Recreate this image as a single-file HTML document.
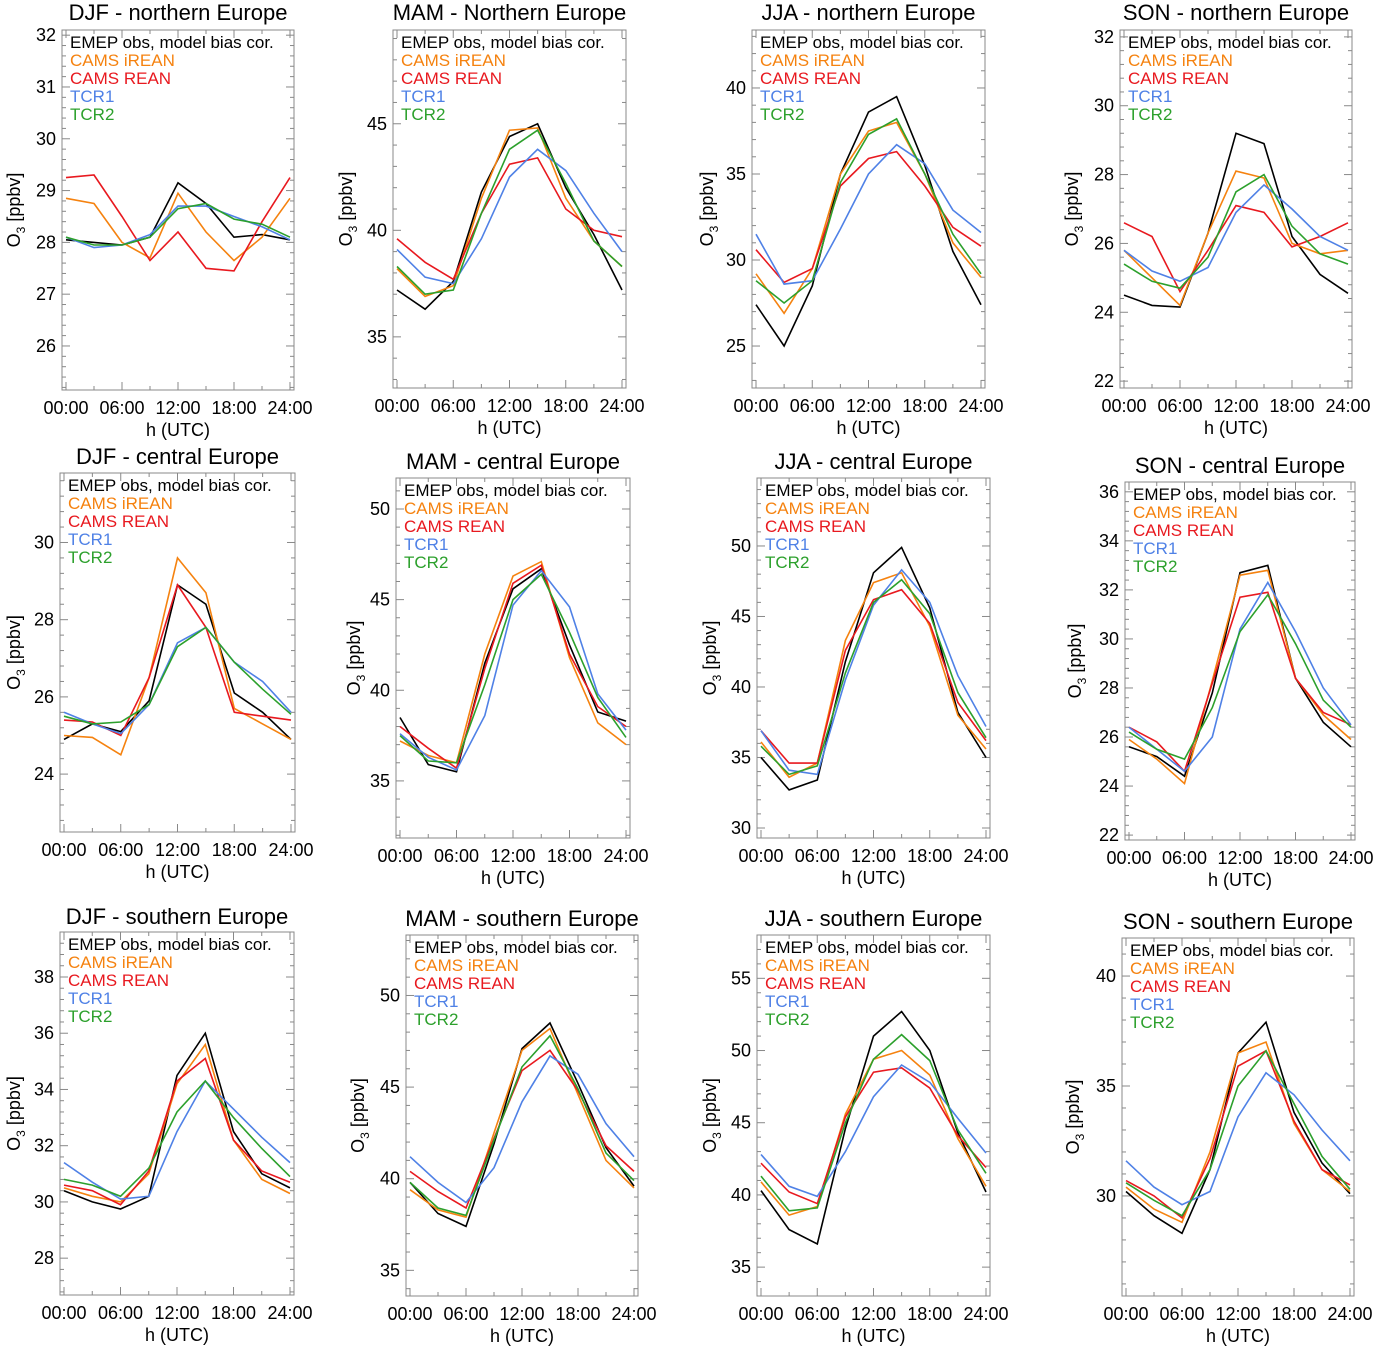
<!DOCTYPE html>
<html><head><meta charset="utf-8">
<style>
html,body{margin:0;padding:0;background:#fff;}
svg{display:block;font-family:"Liberation Sans",sans-serif;}
</style></head>
<body>
<svg id="fig" width="1374" height="1350" viewBox="0 0 1374 1350" xmlns="http://www.w3.org/2000/svg"></svg>
<script>
const hours = [0,3,6,9,12,15,18,21,24];
const seriesNames = ["EMEP obs, model bias cor.","CAMS iREAN","CAMS REAN","TCR1","TCR2"];
const seriesColors = ["#000000","#f5820f","#e8191f","#4f81e6","#2ca02c"];
const xTickLabels = ["00:00","06:00","12:00","18:00","24:00"];
const panelTitles = ["DJF -  northern Europe","MAM - Northern Europe","JJA -  northern Europe","SON -  northern Europe",
"DJF - central Europe","MAM - central Europe","JJA - central Europe","SON - central Europe",
"DJF - southern Europe","MAM - southern Europe","JJA - southern Europe","SON -  southern Europe"];
const yTicks = [[26,27,28,29,30,31,32],[35,40,45],[25,30,35,40],[22,24,26,28,30,32],
[24,26,28,30],[35,40,45,50],[30,35,40,45,50],[22,24,26,28,30,32,34,36],
[28,30,32,34,36,38],[35,40,45,50],[35,40,45,50,55],[30,35,40]];
const yRanges = [[25.15,32.1],[32.6,49.4],[22.56,43.37],[21.8,32.2],
[22.5,31.8],[31.85,51.71],[29.29,54.82],[21.8,36.4],
[26.69,39.6],[33.6,53.3],[33.0,58.0],[25.45,41.73]];
const obs = [[28.05,28.0,27.95,28.1,29.15,28.75,28.1,28.15,28.05],[37.2,36.3,37.6,41.8,44.4,45.0,42.0,39.8,37.2],[27.4,25.0,28.5,35.0,38.6,39.5,35.5,30.5,27.4],[24.5,24.2,24.15,26.3,29.2,28.9,26.2,25.1,24.55],
[24.9,25.3,25.1,25.9,28.9,28.4,26.1,25.6,24.9],[38.5,35.9,35.5,41.5,45.6,46.7,42.5,38.8,38.3],[35.0,32.7,33.4,41.8,48.1,49.9,45.6,38.2,35.0],[25.6,25.2,24.4,27.8,32.7,33.0,28.4,26.6,25.6],
[30.4,30.0,29.75,30.2,34.5,36.0,32.5,31.0,30.5],[39.8,38.1,37.4,41.9,47.1,48.5,45.2,41.7,39.6],[40.3,37.6,36.6,44.6,51.0,52.7,50.0,44.3,40.2],[30.2,29.1,28.3,31.2,36.5,37.9,33.8,31.5,30.1]];
const camsIrean = [[28.85,28.75,28.0,27.7,28.95,28.2,27.65,28.1,28.85],[38.2,36.9,37.4,41.5,44.7,44.8,41.5,39.5,38.3],[29.2,26.9,29.5,35.0,37.5,38.0,35.0,31.0,29.0],[25.8,25.0,24.2,26.3,28.1,27.9,26.0,25.7,25.8],
[25.0,24.95,24.5,26.5,29.6,28.7,25.7,25.3,24.9],[37.2,36.4,36.0,42.0,46.3,47.1,41.8,38.2,37.0],[36.1,33.6,34.6,43.3,47.4,48.1,44.3,38.0,35.6],[25.9,25.1,24.1,28.3,32.6,32.8,28.4,26.9,25.9],
[30.5,30.2,30.0,31.0,34.2,35.6,32.2,30.8,30.3],[39.4,38.3,37.9,42.5,47.0,48.2,44.6,41.0,39.5],[40.9,38.6,39.2,45.6,49.4,50.0,48.3,43.9,40.6],[30.4,29.4,28.8,32.0,36.5,37.0,33.3,31.2,30.2]];
const camsRean = [[29.25,29.3,28.5,27.65,28.2,27.5,27.45,28.4,29.25],[39.6,38.5,37.7,40.8,43.1,43.4,41.0,40.0,39.7],[30.6,28.7,29.5,34.3,35.9,36.3,34.3,31.9,30.8],[26.6,26.2,24.6,25.8,27.1,26.9,25.9,26.2,26.6],
[25.4,25.35,25.0,26.5,28.9,27.8,25.6,25.5,25.4],[38.0,36.8,35.7,41.2,45.9,46.9,42.0,39.1,38.0],[36.9,34.6,34.6,42.6,46.2,46.9,44.5,38.9,36.2],[26.4,25.8,24.6,28.2,31.7,31.9,28.4,27.0,26.5],
[30.6,30.4,29.9,31.1,34.3,35.1,32.2,31.1,30.7],[40.4,39.3,38.4,42.2,45.9,47.0,44.8,41.8,40.4],[42.2,40.2,39.4,45.4,48.5,48.8,47.4,44.1,41.9],[30.7,30.0,29.0,31.7,35.9,36.6,33.4,31.2,30.5]];
const tcr1 = [[28.1,27.9,27.95,28.15,28.7,28.7,28.5,28.3,28.05],[39.1,37.8,37.5,39.6,42.5,43.8,42.8,40.8,39.0],[31.5,28.6,28.8,31.8,35.0,36.7,35.6,32.9,31.6],[25.8,25.2,24.9,25.3,26.9,27.7,27.0,26.2,25.8],
[25.6,25.3,25.05,25.8,27.4,27.8,26.9,26.4,25.6],[37.6,36.3,35.6,38.6,44.7,46.6,44.6,39.8,37.8],[36.9,34.1,33.8,40.5,45.8,48.3,46.0,40.8,37.2],[26.4,25.5,24.6,26.0,30.4,32.3,30.3,28.0,26.5],
[31.4,30.7,30.1,30.2,32.5,34.3,33.3,32.3,31.4],[41.2,39.8,38.7,40.6,44.2,46.7,45.7,43.0,41.2],[42.8,40.6,39.9,43.0,46.8,49.0,47.8,45.3,42.9],[31.6,30.4,29.6,30.2,33.6,35.6,34.6,33.0,31.6]];
const tcr2 = [[28.1,27.95,27.95,28.1,28.65,28.75,28.45,28.35,28.1],[38.3,37.0,37.2,40.8,43.8,44.7,42.2,39.5,38.3],[28.8,27.5,28.8,34.5,37.3,38.2,35.0,31.5,29.2],[25.4,24.9,24.7,25.6,27.5,28.0,26.5,25.7,25.4],
[25.5,25.3,25.35,25.8,27.3,27.8,26.9,26.2,25.55],[37.5,36.1,36.0,40.3,45.0,46.4,43.2,39.6,37.4],[35.8,33.8,34.4,41.0,46.0,47.6,45.2,39.6,36.4],[26.2,25.5,25.1,27.2,30.3,31.8,29.8,27.5,26.4],
[30.8,30.6,30.2,31.2,33.2,34.3,33.0,31.9,30.9],[39.8,38.4,38.0,42.1,46.1,47.8,44.9,41.4,39.9],[41.3,38.9,39.1,45.0,49.4,51.1,49.3,44.5,41.5],[30.6,29.8,29.1,31.2,35.0,36.6,34.2,31.8,30.3]];

// layout (positions only)
const boxes = [[62,30,294,390],[393,30,626,388],[752,30,985,388],[1120,30,1352,388],
[60,473,295,832],[396,478,630,838],[757,478,990,838],[1125,482,1355,840],
[60,932,294,1295],[406,935,638,1296],[757,935,990,1296],[1122,938,1354,1296]];
const titleY = [12,12,12,12,456,461,461,465,916,918,918,921];
const ylabX = [14,346,707,1072,14,354,710,1075,14,358,710,1073];

const NS="http://www.w3.org/2000/svg";
const svg=document.getElementById('fig');
function mk(tag,attrs,parent){const e=document.createElementNS(NS,tag);for(const k in attrs)e.setAttribute(k,attrs[k]);(parent||svg).appendChild(e);return e;}

const allSeries=[obs,camsIrean,camsRean,tcr1,tcr2];
for(let p=0;p<12;p++){
  const [l,t,r,b]=boxes[p];
  const [ymin,ymax]=yRanges[p];
  const xs=h=>l+4+(r-l-8)*h/24;
  const ys=v=>b-(v-ymin)/(ymax-ymin)*(b-t);
  const g=mk('g',{});
  
  
  const box=mk('rect',{x:l,y:t,width:r-l,height:b-t,fill:'none',stroke:'#888','stroke-width':1},g);
  
  
  for(let h=0;h<=24;h+=1){
    const x=xs(h); const len=(h%6===0)?8:(h%3===0?4:0);
    if(len){mk('line',{x1:x,y1:b,x2:x,y2:b-len,stroke:'#888'},g);mk('line',{x1:x,y1:t,x2:x,y2:t+len,stroke:'#888'},g);}
  }
  xTickLabels.forEach((lab,i)=>{
    const tx=mk('text',{x:xs(i*6),y:b+24,'text-anchor':'middle','font-size':18,fill:'#000'},g);
    tx.textContent=lab;
    
    
  });
  const xl=mk('text',{x:(l+r)/2,y:b+46,'text-anchor':'middle','font-size':18},g);
  xl.textContent='h (UTC)';
  
  
  const step=yTicks[p][1]-yTicks[p][0];
  const minor=step/5;
  for(let v=Math.ceil(ymin/minor)*minor;v<=ymax;v+=minor){
    const y=ys(v); const isMaj=Math.abs(Math.round(v/step)*step-v)<1e-6;
    const len=isMaj?8:4;
    mk('line',{x1:l,y1:y,x2:l+len,y2:y,stroke:'#888'},g);
    mk('line',{x1:r,y1:y,x2:r-len,y2:y,stroke:'#888'},g);
  }
  yTicks[p].forEach(v=>{
    const tx=mk('text',{x:l-6,y:ys(v)+6,'text-anchor':'end','font-size':18},g);
    tx.textContent=v;
    
    
  });
  const cy=(t+b)/2;
  const yl=mk('text',{x:ylabX[p]+6,y:cy,'text-anchor':'middle','font-size':18,transform:`rotate(-90 ${ylabX[p]+6} ${cy})`},g);
  yl.innerHTML='O<tspan font-size="12" dy="5">3</tspan><tspan dy="-5"> [ppbv]</tspan>';
  
  
  const ti=mk('text',{x:(l+r)/2,y:titleY[p]+8,'text-anchor':'middle','font-size':22},g);
  ti.textContent=panelTitles[p];
  
  
  allSeries.forEach((arr,si)=>{
    const pts=hours.map((h,i)=>xs(h).toFixed(1)+','+ys(arr[p][i]).toFixed(1)).join(' ');
    const pl=mk('polyline',{points:pts,fill:'none',stroke:seriesColors[si],'stroke-width':1.6},g);
    
    
  });
  seriesNames.forEach((n,si)=>{
    const tx=mk('text',{x:l+8,y:t+18+si*18,'font-size':17,fill:seriesColors[si]},g);
    tx.textContent=n;
    
    
  });
}
</script>
</body></html>
